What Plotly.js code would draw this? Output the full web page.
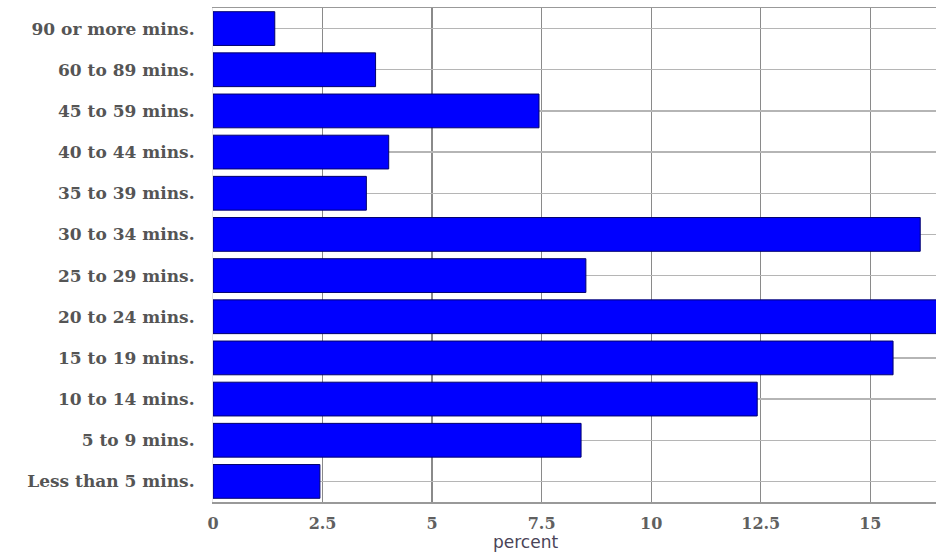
<!DOCTYPE html>
<html>
<head>
<meta charset="utf-8">
<script src="https://cdn.plot.ly/plotly-3.0.1.min.js"></script>
<style>html,body{margin:0;padding:0;background:#fff;}#chart{width:936px;height:555px;}</style>
</head>
<body>
<div id="chart"></div>
<script>
var categories = ["Less than 5 mins.", "5 to 9 mins.", "10 to 14 mins.", "15 to 19 mins.", "20 to 24 mins.", "25 to 29 mins.", "30 to 34 mins.", "35 to 39 mins.", "40 to 44 mins.", "45 to 59 mins.", "60 to 89 mins.", "90 or more mins."];
var percents = [2.44, 8.4, 12.42, 15.52, 16.6, 8.51, 16.14, 3.5, 4.01, 7.44, 3.71, 1.41];
var xTicks = [0, 2.5, 5, 7.5, 10, 12.5, 15];
var xTickLabels = ["0", "2.5", "5", "7.5", "10", "12.5", "15"];
var xTitle = "percent";

var trace = {
  type: "bar",
  orientation: "h",
  x: percents,
  y: categories,
  marker: {color: "#0000FF", line: {color: "#00006e", width: 1}},
  hoverinfo: "x+y"
};

var layout = {
  width: 936, height: 555,
  margin: {l: 213, r: 0, t: 8, b: 53, pad: 0},
  paper_bgcolor: "#ffffff",
  plot_bgcolor: "#ffffff",
  bargap: 0.18,
  showlegend: false,
  xaxis: {
    range: [0, 16.5],
    tickmode: "array",
    tickvals: xTicks,
    ticktext: xTickLabels,
    showgrid: true,
    gridcolor: "#8a8a8a",
    gridwidth: 1.3,
    zeroline: false,
    showline: true,
    linecolor: "#999999",
    linewidth: 1.5,
    mirror: true,
    ticks: "",
    ticklabelstandoff: 6,
    tickfont: {family: "DejaVu Serif", size: 16, color: "#606060", weight: "bold"},
    fixedrange: true
  },
  yaxis: {
    type: "category",
    categoryorder: "array",
    categoryarray: categories,
    range: [-0.5, 11.5],
    showgrid: true,
    gridcolor: "#b5b5b5",
    gridwidth: 1.3,
    zeroline: false,
    showline: true,
    linecolor: "#e6e6e6",
    ticks: "",
    ticklabelstandoff: 14,
    tickfont: {family: "DejaVu Serif", size: 17, color: "#555555", weight: "bold"},
    fixedrange: true
  },
  annotations: [{
    text: xTitle,
    xref: "paper", yref: "paper",
    x: (525 - 213) / 723, y: -(542 - 502) / 494,
    xanchor: "center", yanchor: "middle",
    showarrow: false,
    font: {family: "DejaVu Sans", size: 17, color: "#4a4458"}
  }]
};

Plotly.newPlot("chart", [trace], layout, {displayModeBar: false, staticPlot: true});
</script>
</body>
</html>
